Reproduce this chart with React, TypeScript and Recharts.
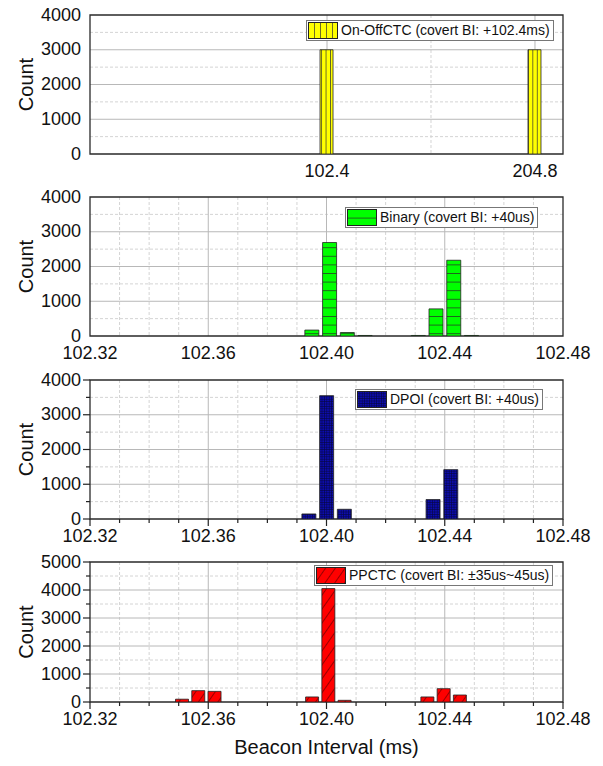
import React from "react";
import { BarChart, Bar, XAxis, YAxis, CartesianGrid, ReferenceArea, Legend } from "recharts";

const FONT = '"Liberation Sans", Arial, sans-serif';

// beacon interval histograms (ms -> count)
const onOffIntervals = [102.4, 204.8];
const onOffCounts = [3000, 3000];

const binaryIntervals = [102.395, 102.401, 102.407, 102.413, 102.431, 102.437, 102.443, 102.449];
const binaryCounts = [170, 2690, 100, 15, 15, 780, 2180, 15];

const dpoiIntervals = [102.394, 102.4, 102.406, 102.436, 102.442];
const dpoiCounts = [145, 3550, 280, 560, 1420];

const ppctcIntervals = [102.351, 102.3565, 102.362, 102.395, 102.4005, 102.406, 102.434, 102.4395, 102.445];
const ppctcCounts = [100, 405, 380, 180, 4050, 60, 180, 475, 250];

// axis ticks
const wideMajor = [102.4, 204.8];
const wideMinor = [153.6];
const fineMajor = [102.32, 102.36, 102.4, 102.44, 102.48];
const fineMinor = [102.33, 102.34, 102.35, 102.37, 102.38, 102.39, 102.41, 102.42, 102.43, 102.45, 102.46, 102.47];
const count4kMajor = [0, 1000, 2000, 3000, 4000];
const count4kMinor = [500, 1500, 2500, 3500];
const count5kMajor = [0, 1000, 2000, 3000, 4000, 5000];
const count5kMinor = [500, 1500, 2500, 3500, 4500];

const PLOT_TOP = 10;
const near = (list: number[], v: number) => list.some((m) => Math.abs(m - v) < 1e-6);

type Kind = "vertical" | "horizontal" | "mesh" | "diagonal";

function hatch(kind: Kind, id: string, legend = false) {
  if (kind === "vertical") {
    const w = legend ? 6 : 4.4;
    return (
      <pattern id={id} patternUnits="userSpaceOnUse" width={w} height={10}>
        <rect width={w} height={10} fill="#ffff00" />
        <line x1={0.4} x2={0.4} y1={0} y2={10} stroke="#333" strokeWidth={0.8} />
      </pattern>
    );
  }
  if (kind === "horizontal") {
    return (
      <pattern id={id} patternUnits="userSpaceOnUse" width={10} height={8.6}>
        <rect width={10} height={8.6} fill="#00ff00" />
        <line x1={0} x2={10} y1={0.4} y2={0.4} stroke="#2a2a2a" strokeWidth={0.8} />
      </pattern>
    );
  }
  if (kind === "mesh") {
    return (
      <pattern id={id} patternUnits="userSpaceOnUse" width={2.4} height={2.4}>
        <rect width={2.4} height={2.4} fill="#0c0cae" />
        <path d="M0 0.3H2.4M0.3 0V2.4" stroke="#06063a" strokeWidth={0.6} />
      </pattern>
    );
  }
  return (
    <pattern id={id} patternUnits="userSpaceOnUse" width={8} height={10} patternTransform="rotate(35)">
      <rect width={8} height={10} fill="#ff0000" />
      <line x1={0.4} x2={0.4} y1={0} y2={10} stroke="#5a0000" strokeWidth={0.7} />
    </pattern>
  );
}

function xTick(major: number[], decimals: number, marks: boolean) {
  return (p: any) => {
    const v = Number(p.payload.value);
    const isMajor = near(major, v);
    return (
      <g>
        {marks && (
          <line x1={p.x} x2={p.x} y1={p.y} y2={p.y + (isMajor ? 7 : 4)} stroke="#222" strokeWidth={1.2} />
        )}
        {isMajor && (
          <text x={p.x} y={p.y + 23} textAnchor="middle" fontSize={18} fontFamily={FONT} fill="#111">
            {v.toFixed(decimals)}
          </text>
        )}
      </g>
    );
  };
}

function yTick(major: number[], marks: boolean) {
  return (p: any) => {
    const v = Number(p.payload.value);
    const isMajor = near(major, v);
    return (
      <g>
        {marks && (
          <line x1={p.x} x2={p.x - (isMajor ? 7 : 4)} y1={p.y} y2={p.y} stroke="#222" strokeWidth={1.2} />
        )}
        {isMajor && (
          <text x={p.x - 9} y={p.y + 5.5} textAnchor="end" fontSize={18} fontFamily={FONT} fill="#111">
            {v}
          </text>
        )}
      </g>
    );
  };
}

function legendKey(kind: Kind, id: string) {
  return (props: any) => {
    const item = props.payload?.[0];
    return (
      <div
        style={{
          display: "inline-flex",
          alignItems: "center",
          border: "1px solid #777",
          background: "#fff",
          padding: "1px 3px 1px 1px",
          fontFamily: FONT,
          fontSize: 14,
          color: "#111",
          lineHeight: "17px",
        }}
      >
        <svg width={30} height={17} style={{ display: "block", marginRight: 3 }}>
          <defs>{hatch(kind, `${id}-key`, true)}</defs>
          <rect x={0.5} y={0.5} width={29} height={16} fill={`url(#${id}-key)`} stroke="#222" />
        </svg>
        <span style={{ whiteSpace: "nowrap" }}>{item?.value}</span>
      </div>
    );
  };
}

interface PanelProps {
  id: string;
  kind: Kind;
  name: string;
  intervals: number[];
  counts: number[];
  xDomain: [number, number];
  xMajor: number[];
  xMinor: number[];
  decimals: number;
  yMajor: number[];
  yMinor: number[];
  top: number;
  plotHeight: number;
  barSize: number;
  marks: boolean;
  legendLeft: number;
  legendTop: number;
  xTitle?: string;
}

function Panel(p: PanelProps) {
  const data = p.intervals.map((interval, i) => ({ interval, count: p.counts[i] }));
  const yMax = p.yMajor[p.yMajor.length - 1];
  const axisHeight = p.xTitle ? 62 : 30;
  const height = PLOT_TOP + p.plotHeight + axisHeight;
  const xTicks = [...p.xMajor, ...p.xMinor].sort((a, b) => a - b);
  const yTicks = [...p.yMajor, ...p.yMinor].sort((a, b) => a - b);
  const gridMajorX = p.xMajor.filter((v) => v > p.xDomain[0] && v < p.xDomain[1]);
  const gridMajorY = p.yMajor.filter((v) => v > 0 && v < yMax);

  return (
    <div style={{ position: "absolute", left: 0, top: p.top }}>
      <BarChart
        width={603}
        height={height}
        data={data}
        margin={{ top: PLOT_TOP, right: 40, bottom: 0, left: 0 }}
      >
        <defs>{hatch(p.kind, p.id)}</defs>
        <CartesianGrid
          stroke="#d4d4d4"
          strokeDasharray="3 2"
          horizontalValues={p.yMinor}
          verticalValues={p.xMinor}
        />
        <CartesianGrid stroke="#b8b8b8" horizontalValues={gridMajorY} verticalValues={gridMajorX} />
        <XAxis
          dataKey="interval"
          type="number"
          domain={p.xDomain}
          allowDataOverflow
          ticks={xTicks}
          interval={0}
          tickSize={0}
          tickMargin={0}
          axisLine={false}
          tickLine={false}
          height={axisHeight}
          tick={xTick(p.xMajor, p.decimals, p.marks)}
          label={
            p.xTitle
              ? (lp: any) => {
                  const vb = lp.viewBox ?? {};
                  const cx = (vb.x ?? 90) + (vb.width ?? 473) / 2;
                  const y = (vb.y ?? PLOT_TOP + p.plotHeight) + 52;
                  return (
                    <text x={cx} y={y} textAnchor="middle" fontSize={20} fontFamily={FONT} fill="#111">
                      {p.xTitle}
                    </text>
                  );
                }
              : undefined
          }
        />
        <YAxis
          type="number"
          domain={[0, yMax]}
          allowDataOverflow
          ticks={yTicks}
          interval={0}
          width={90}
          tickSize={0}
          tickMargin={0}
          axisLine={false}
          tickLine={false}
          tick={yTick(p.yMajor, p.marks)}
          label={(lp: any) => {
            const vb = lp.viewBox ?? {};
            const cy = (vb.y ?? PLOT_TOP) + (vb.height ?? p.plotHeight) / 2;
            return (
              <text
                x={26}
                y={cy}
                transform={`rotate(-90 26 ${cy})`}
                textAnchor="middle"
                dominantBaseline="central"
                fontSize={20}
                fontFamily={FONT}
                fill="#111"
              >
                Count
              </text>
            );
          }}
        />
        <Bar
          dataKey="count"
          name={p.name}
          fill={`url(#${p.id})`}
          stroke="#222"
          strokeWidth={0.8}
          barSize={p.barSize}
          isAnimationActive={false}
        />
        <ReferenceArea
          x1={p.xDomain[0]}
          x2={p.xDomain[1]}
          y1={0}
          y2={yMax}
          fill="none"
          stroke="#2a2a2a"
          strokeWidth={1.3}
        />
        <Legend
          layout="horizontal"
          verticalAlign="middle"
          align="center"
          wrapperStyle={{ top: p.legendTop, left: p.legendLeft, width: "auto" }}
          content={legendKey(p.kind, p.id)}
        />
      </BarChart>
    </div>
  );
}

export default function App() {
  return (
    <div style={{ position: "absolute", left: 0, top: 0, width: 603, height: 766, background: "#fff" }}>
      <Panel
        id="onoff"
        kind="vertical"
        name="On-OffCTC (covert BI: +102.4ms)"
        intervals={onOffIntervals}
        counts={onOffCounts}
        xDomain={[-14.3, 218.6]}
        xMajor={wideMajor}
        xMinor={wideMinor}
        decimals={1}
        yMajor={count4kMajor}
        yMinor={count4kMinor}
        top={5}
        plotHeight={139}
        barSize={13}
        marks={false}
        legendLeft={306}
        legendTop={15}
      />
      <Panel
        id="binary"
        kind="horizontal"
        name="Binary (covert BI: +40us)"
        intervals={binaryIntervals}
        counts={binaryCounts}
        xDomain={[102.32, 102.48]}
        xMajor={fineMajor}
        xMinor={fineMinor}
        decimals={2}
        yMajor={count4kMajor}
        yMinor={count4kMinor}
        top={187}
        plotHeight={139}
        barSize={14}
        marks={false}
        legendLeft={345}
        legendTop={20}
      />
      <Panel
        id="dpoi"
        kind="mesh"
        name="DPOI (covert BI: +40us)"
        intervals={dpoiIntervals}
        counts={dpoiCounts}
        xDomain={[102.32, 102.48]}
        xMajor={fineMajor}
        xMinor={fineMinor}
        decimals={2}
        yMajor={count4kMajor}
        yMinor={count4kMinor}
        top={370}
        plotHeight={139}
        barSize={14}
        marks={true}
        legendLeft={355}
        legendTop={19}
      />
      <Panel
        id="ppctc"
        kind="diagonal"
        name="PPCTC (covert BI: ±35us~45us)"
        intervals={ppctcIntervals}
        counts={ppctcCounts}
        xDomain={[102.32, 102.48]}
        xMajor={fineMajor}
        xMinor={fineMinor}
        decimals={2}
        yMajor={count5kMajor}
        yMinor={count5kMinor}
        top={552}
        plotHeight={140}
        barSize={13}
        marks={true}
        legendLeft={314}
        legendTop={13}
        xTitle="Beacon Interval (ms)"
      />
    </div>
  );
}
